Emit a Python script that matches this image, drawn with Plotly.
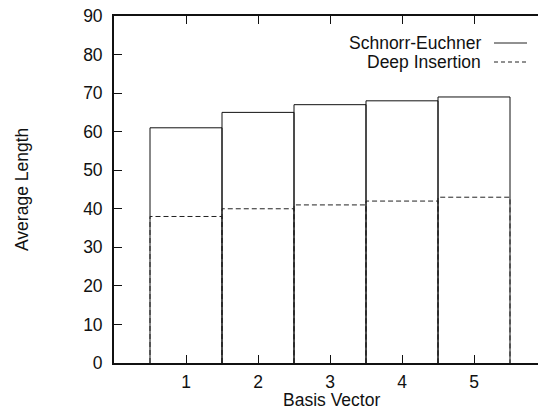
import plotly.graph_objects as go

# Average length per basis vector for two reduction strategies
basis_vectors = [1, 2, 3, 4, 5]
schnorr_euchner = [61, 65, 67, 68, 69]
deep_insertion = [38, 40, 41, 42, 43]
y_ticks = [0, 10, 20, 30, 40, 50, 60, 70, 80, 90]

BAR_WIDTH = 1.0
FONT = "Liberation Sans, Arial, Helvetica, sans-serif"
FS = 17.5


def outline(xs, ys, w):
    """Open-bottom rectangle outlines (gnuplot 'boxes' style) for each bar."""
    px, py = [], []
    for x, y in zip(xs, ys):
        px += [x - w / 2, x - w / 2, x + w / 2, x + w / 2, None]
        py += [0, y, y, 0, None]
    return px, py


fig = go.Figure()

sx, sy = outline(basis_vectors, schnorr_euchner, BAR_WIDTH)
fig.add_trace(go.Scatter(x=sx, y=sy, mode="lines", name="Schnorr-Euchner",
                         line=dict(color="#111111", width=1), hoverinfo="skip",
                         showlegend=False))

dx, dy = outline(basis_vectors, deep_insertion, BAR_WIDTH)
fig.add_trace(go.Scatter(x=dx, y=dy, mode="lines", name="Deep Insertion",
                         line=dict(color="#222222", width=1, dash="5px,3px"),
                         hoverinfo="skip", showlegend=False))

# Plot-area geometry (pixels)
L, R, T, B = 114, 538, 16, 363
W, H = R - L, B - T


def px_x(x):
    return (x - L) / W


def px_y(y):
    return (B - y) / H


# Key: right-aligned labels with the line sample on the right
key = [("Schnorr-Euchner", 43, "solid"), ("Deep Insertion", 62, "4px,3px")]
for label, yy, dash in key:
    fig.add_annotation(xref="paper", yref="paper", x=px_x(483), y=px_y(yy),
                       text=label, showarrow=False, xanchor="right",
                       yanchor="middle", font=dict(family=FONT, size=FS, color="#111"))
    fig.add_shape(type="line", xref="paper", yref="paper",
                  x0=px_x(494), x1=px_x(527), y0=px_y(yy), y1=px_y(yy),
                  line=dict(color="#222", width=1, dash=dash))

# Axis titles
fig.add_annotation(xref="paper", yref="paper", x=px_x(331), y=px_y(400),
                   text="Basis Vector", showarrow=False, xanchor="center",
                   yanchor="middle", font=dict(family=FONT, size=FS, color="#111"))
fig.add_annotation(xref="paper", yref="paper", x=px_x(22), y=px_y(190),
                   text="Average Length", showarrow=False, textangle=-90,
                   xanchor="center", yanchor="middle",
                   font=dict(family=FONT, size=FS, color="#111"))

fig.update_layout(
    width=538, height=410,
    margin=dict(l=L, r=538 - R, t=T, b=410 - B, pad=0),
    paper_bgcolor="white", plot_bgcolor="white",
    font=dict(family=FONT, size=FS, color="#111"),
    showlegend=False,
)
fig.update_xaxes(
    range=[0, W / 72.0], tickvals=basis_vectors, ticktext=[str(v) for v in basis_vectors],
    ticks="inside", ticklen=8, tickwidth=1, tickcolor="#111",
    showline=True, linecolor="#111", linewidth=1.8, mirror="ticks",
    showgrid=False, zeroline=False, fixedrange=True,
    ticklabelstandoff=2,
)
fig.update_yaxes(
    range=[0, 90], tickvals=y_ticks, ticktext=[str(v) for v in y_ticks],
    ticks="inside", ticklen=8, tickwidth=1, tickcolor="#111",
    showline=True, linecolor="#111", linewidth=1.8, mirror=False,
    showgrid=False, zeroline=False, fixedrange=True,
    ticklabelstandoff=6,
)

fig.write_html("out.html", config={"displayModeBar": False})
